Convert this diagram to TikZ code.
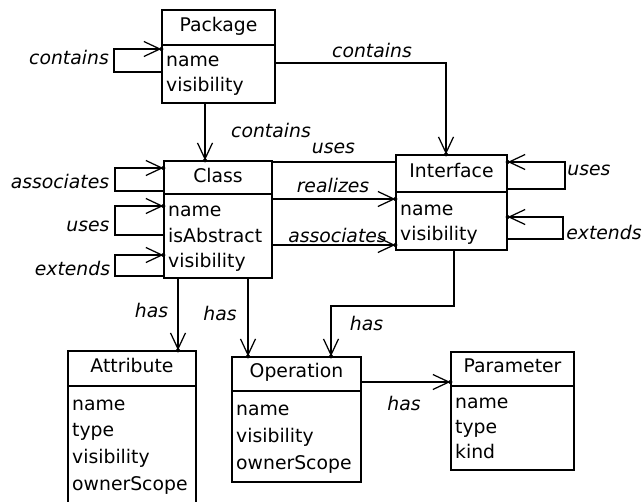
\documentclass[tikz,border=0pt]{standalone}
\usepackage{fontspec}
\setmainfont{DejaVu Sans}
\usetikzlibrary{arrows.meta}
\newcommand\umlfont{\fontsize{18.8}{26}\selectfont}
\begin{document}
\begin{tikzpicture}[x=1pt,y=-1pt,
  box/.style={draw,rectangle,inner sep=0pt,line width=1.3pt,font=\umlfont,text height=0.73em,text depth=0pt},
  item/.style={anchor=base west,inner sep=0pt,font=\umlfont},
  role/.style={inner sep=0pt,font=\umlfont\itshape},
  conn/.style={line width=1.25pt},
  nav/.style={conn,-{Straight Barb[length=16pt,width=15pt]}}
]
\fill[white] (0,0) rectangle (642,501);
\useasboundingbox (0,0) rectangle (642,501);
\clip (0,0) rectangle (642,501);

% class boxes: header + body
\node[box,minimum width=113pt,minimum height=35pt] (pkgH) at (218.5,27.5) {Package};
\node[box,minimum width=113pt,minimum height=58pt] (pkgB) at (218.5,74) {};
\node[box,minimum width=108pt,minimum height=33pt] (clsH) at (218,177.5) {\raisebox{-1.5pt}{Class}};
\node[box,minimum width=108pt,minimum height=84pt] (clsB) at (218,236) {};
\node[box,minimum width=111pt,minimum height=37pt] (ifH) at (451.5,173.5) {Interface};
\node[box,minimum width=111pt,minimum height=58pt] (ifB) at (451.5,221) {};
\node[box,minimum width=128pt,minimum height=35pt] (attH) at (132,368.5) {Attribute};
\node[box,minimum width=128pt,minimum height=120pt] (attB) at (132,446) {};
\node[box,minimum width=129pt,minimum height=34pt] (opH) at (296.5,374) {Operation};
\node[box,minimum width=129pt,minimum height=91pt] (opB) at (296.5,436.5) {};
\node[box,minimum width=123pt,minimum height=34pt] (parH) at (512.5,369) {Parameter};
\node[box,minimum width=123pt,minimum height=84pt] (parB) at (512.5,428) {};

% attribute lists
\node[item] (pkg1) at (166,66.7) {name};
\node[item] (pkg2) at (166,91.7) {visibility};
\node[item] (cls1) at (168,216.7) {name};
\node[item] (cls2) at (168,242.3) {isAbstract};
\node[item] (cls3) at (168,267.7) {visibility};
\node[item] (if1) at (400,215) {name};
\node[item] (if2) at (400,240) {visibility};
\node[item] (att1) at (72,410) {name};
\node[item] (att2) at (72,436.7) {type};
\node[item] (att3) at (72,463.3) {visibility};
\node[item] (att4) at (72,490) {ownerScope};
\node[item] (op1) at (236,415) {name};
\node[item] (op2) at (236,442) {visibility};
\node[item] (op3) at (236,469) {ownerScope};
\node[item] (par1) at (455,408) {name};
\node[item] (par2) at (455,433) {type};
\node[item] (par3) at (455,458) {kind};

% Package relations
\draw[nav] (pkgB.west |- 0,72) -| (114,49) -- (pkgB.west |- 0,49) coordinate (e1);
\draw[nav] (pkgB.south -| 205,0) -- (clsH.north -| 205,0) coordinate (e2);
\draw[nav] (pkgB.east |- 0,63) -| (ifH.north -| 446,0) coordinate (e3);

% Class self-relations
\draw[nav] (clsH.west |- 0,191) -| (115,168) -- (clsH.west |- 0,168) coordinate (e4);
\draw[nav] (clsB.west |- 0,235) -| (115,206) -- (clsB.west |- 0,206) coordinate (e5);
\draw[nav] (clsB.west |- 0,276) -| (115,255) -- (clsB.west |- 0,255) coordinate (e6);

% Class to Interface
\draw[conn] (clsH.east |- 0,162) -- (ifH.west |- 0,162);
\draw[nav] (clsB.east |- 0,199) -- (ifB.west |- 0,199) coordinate (e7);
\draw[nav] (clsB.east |- 0,245) -- (ifB.west |- 0,245) coordinate (e8);

% Interface self-relations
\draw[nav] (ifH.east |- 0,189) -| (565,162) -- (ifH.east |- 0,162) coordinate (e9);
\draw[nav] (ifB.east |- 0,239) -| (563,217) -- (ifB.east |- 0,217) coordinate (e10);

% composition ("has")
\draw[nav] (clsB.south -| 178,0) -- (attH.north -| 178,0) coordinate (e11);
\draw[nav] (clsB.south -| 248,0) -- (opH.north -| 248,0) coordinate (e12);
\coordinate (bend) at (331,306);
\draw[nav] (ifB.south -| 454,0) |- (bend) -- (opH.north -| bend) coordinate (e13);
\draw[nav] (opH.east |- 0,382) -- (parH.west |- 0,382) coordinate (e14);

% dots at the arrow tips
\foreach \e in {e1,e2,e3,e4,e5,e6,e7,e8,e9,e10,e11,e12,e13,e14}
  \fill (\e) circle (2);

% role labels
\node[role] (r1) at (69,57) {contains};
\node[role] (r2) at (271,130) {contains};
\node[role] (r3) at (372,50) {contains};
\node[role] (r4) at (333.5,148) {uses};
\node[role] (r5) at (333,185) {realizes};
\node[role] (r6) at (337.5,235) {associates};
\node[role] (r7) at (60,181) {associates};
\node[role] (r8) at (88,226) {uses};
\node[role] (r9) at (72.5,268) {extends};
\node[role] (r10) at (589,170) {uses};
\node[role] (r11) at (604,232) {extends};
\node[role] (r12) at (151.5,310) {has};
\node[role] (r13) at (220,313) {has};
\node[role] (r14) at (366.5,323) {has};
\node[role] (r15) at (404,403) {has};
\end{tikzpicture}
\end{document}
